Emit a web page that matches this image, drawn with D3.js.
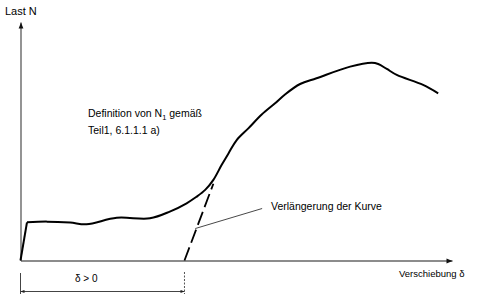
<!DOCTYPE html>
<html lang="de">
  <head>
    <meta charset="utf-8">
    <title>Last-Verschiebungs-Kurve</title>
    <script src="https://d3js.org/d3.v7.min.js"></script>
    <style>
      body { margin: 0; background: #fff; }
      text { font-family: "Liberation Sans", Arial, sans-serif; fill: #000; }
    </style>
  </head>
  <body>
    <div id="chart"></div>
    <script type="text/javascript">
      "use strict"

      const verschiebung = [0, 1.5, 6.1, 11.5, 15.3, 22.3, 30.0, 34.6, 38.5, 40.7, 42.8, 44.7, 46.6, 48.2,
                            50.1, 52.8, 55.9, 59.0, 61.3, 64.8, 68.6, 76.4, 81.4, 82.9, 84.9, 87.2, 93.3, 96.8];
      const last = [0, 16.0, 16.3, 15.9, 15.2, 17.9, 17.7, 20.5, 24.0, 26.6, 29.6, 33.8, 40.0, 44.9,
                    50.5, 55.4, 61.2, 65.9, 69.6, 74.0, 76.4, 81.3, 82.9, 82.4, 80.3, 77.8, 73.6, 70.1];

      // Verlaengerung der Kurve (gestrichelt)
      const verlaengerungX = [38.0, 44.7];
      const verlaengerungY = [0, 32.2];

      // Hinweislinie zum Text
      const hinweisX = [40.5, 56.0];
      const hinweisY = [13.4, 21.8];

      const deltaNull = 38.0; // Bemassung delta > 0

      const breite = 478, hoehe = 299;

      const x = d3.scaleLinear().domain([0, 100]).range([20.5, 452]);
      const y = d3.scaleLinear().domain([0, 100]).range([260.5, 22]);

      const svg = d3.select("#chart").append("svg")
        .attr("width", breite)
        .attr("height", hoehe);

      const defs = svg.append("defs");
      defs.append("marker")
        .attr("id", "pfeil")
        .attr("viewBox", "0 0 10 10")
        .attr("refX", 10).attr("refY", 5)
        .attr("markerUnits", "userSpaceOnUse")
        .attr("markerWidth", 10).attr("markerHeight", 6)
        .attr("orient", "auto")
        .append("path").attr("d", "M0,1L10,5L0,9Z").attr("fill", "#111");
      defs.append("marker")
        .attr("id", "klein")
        .attr("viewBox", "0 0 10 10")
        .attr("refX", 10).attr("refY", 5)
        .attr("markerUnits", "userSpaceOnUse")
        .attr("markerWidth", 5).attr("markerHeight", 4)
        .attr("orient", "auto-start-reverse")
        .append("path").attr("d", "M0,1L10,5L0,9Z").attr("fill", "#222");

      // Achsen ohne Teilstriche
      const xAchse = svg.append("g")
        .attr("transform", "translate(0," + y(0) + ")")
        .call(d3.axisBottom(x).ticks(0).tickSizeOuter(0));
      const yAchse = svg.append("g")
        .attr("transform", "translate(" + x(0) + ",0)")
        .call(d3.axisLeft(y).ticks(0).tickSizeOuter(0));
      [xAchse, yAchse].forEach(a => a.select(".domain")
        .attr("stroke", "#666")
        .attr("stroke-width", 1.4)
        .attr("marker-end", "url(#pfeil)"));

      // Kurve: gerader Anstieg, danach glatt
      const punkte = verschiebung.map((v, i) => [v, last[i]]);
      const linie = d3.line().x(d => x(d[0])).y(d => y(d[1]));
      svg.append("path")
        .datum(punkte.slice(0, 2))
        .attr("fill", "none")
        .attr("stroke", "#000")
        .attr("stroke-width", 2)
        .attr("d", linie);
      svg.append("path")
        .datum(punkte.slice(1))
        .attr("fill", "none")
        .attr("stroke", "#000")
        .attr("stroke-width", 2)
        .attr("stroke-linejoin", "round")
        .attr("d", linie.curve(d3.curveCatmullRom.alpha(0.5)));

      // Verlaengerung gestrichelt
      svg.append("line")
        .attr("x1", x(verlaengerungX[0])).attr("y1", y(verlaengerungY[0]))
        .attr("x2", x(verlaengerungX[1])).attr("y2", y(verlaengerungY[1]))
        .attr("stroke", "#000")
        .attr("stroke-width", 1.8)
        .attr("stroke-dasharray", "14,5");

      svg.append("line")
        .attr("x1", x(hinweisX[0])).attr("y1", y(hinweisY[0]))
        .attr("x2", x(hinweisX[1])).attr("y2", y(hinweisY[1]))
        .attr("stroke", "#333")
        .attr("stroke-width", 0.9);

      // Bemassung delta > 0
      svg.append("line")
        .attr("x1", x(0)).attr("x2", x(0))
        .attr("y1", 273).attr("y2", 294)
        .attr("stroke", "#444").attr("stroke-width", 1);
      svg.append("line")
        .attr("x1", x(deltaNull)).attr("x2", x(deltaNull))
        .attr("y1", 272).attr("y2", 294)
        .attr("stroke", "#555").attr("stroke-width", 1)
        .attr("stroke-dasharray", "2,1.5");
      svg.append("line")
        .attr("x1", x(0)).attr("x2", x(deltaNull))
        .attr("y1", 291.5).attr("y2", 291.5)
        .attr("stroke", "#444").attr("stroke-width", 1)
        .attr("marker-start", "url(#klein)")
        .attr("marker-end", "url(#klein)");

      // Beschriftungen
      svg.append("text").attr("x", 5).attr("y", 15)
        .style("font-size", "11px").text("Last N");

      const def = svg.append("text").attr("x", 88).attr("y", 117)
        .style("font-size", "10.5px");
      def.append("tspan").text("Definition von N");
      def.append("tspan").attr("dy", 3).style("font-size", "7.5px").text("1");
      def.append("tspan").attr("dy", -3).text(" gemäß");
      svg.append("text").attr("x", 88).attr("y", 133.5)
        .style("font-size", "10.5px").text("Teil1, 6.1.1.1 a)");

      svg.append("text").attr("x", 271).attr("y", 210)
        .style("font-size", "10.5px").text("Verlängerung der Kurve");

      svg.append("text").attr("x", 399).attr("y", 276.5)
        .style("font-size", "9.5px").text("Verschiebung δ");

      svg.append("text").attr("x", 75).attr("y", 281.5)
        .style("font-size", "10px").text("δ > 0");
    </script>
  </body>
</html>
